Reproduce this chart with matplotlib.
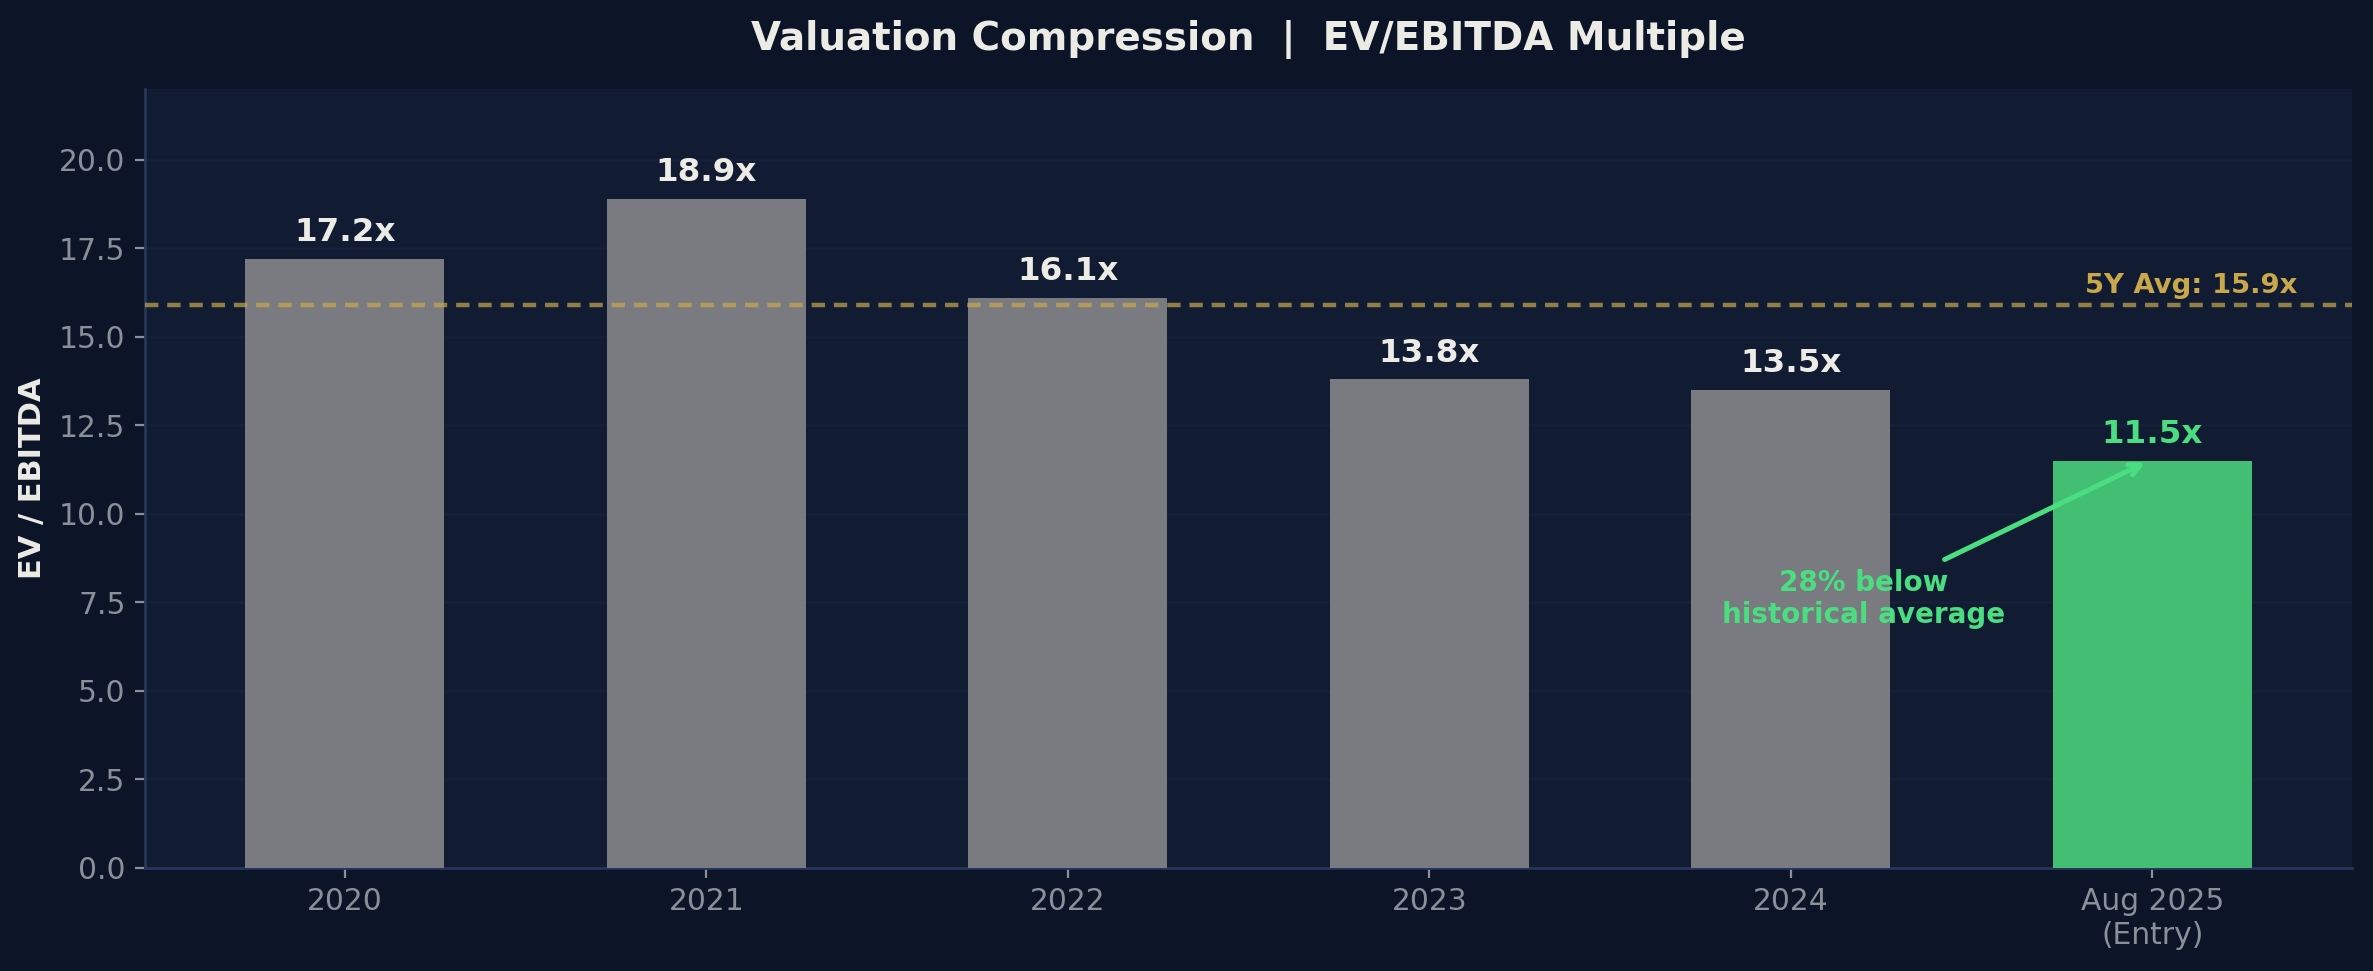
import matplotlib
matplotlib.use("Agg")
import matplotlib.pyplot as plt

categories = ["2020", "2021", "2022", "2023", "2024", "Aug 2025\n(Entry)"]
multiples = [17.2, 18.9, 16.1, 13.8, 13.5, 11.5]
avg_5y = 15.9
avg_label = "5Y Avg: 15.9x"
annot_text = "28% below\nhistorical average"
title = "Valuation Compression  |  EV/EBITDA Multiple"
ylabel = "EV / EBITDA"

FIG_BG = "#0b1527"
AX_BG = "#111c33"
GRAY = "#7a7b80"
GREEN_BAR = "#42bf72"
GREEN_TXT = "#4ade80"
GOLD = "#c9a84c"
TXT = "#ecebe6"
TICK = "#8a8f98"

plt.rcParams['font.family'] = ['DejaVu Sans']
fig = plt.figure(figsize=(2373/200, 971/200), dpi=200, facecolor=FIG_BG)
ax = fig.add_axes([0.0611, 0.1061, 0.9301, 0.8022])
ax.set_facecolor(AX_BG)

x = list(range(len(categories)))
colors = [GRAY] * (len(categories) - 1) + [GREEN_BAR]
ax.bar(x, multiples, width=0.55, color=colors, zorder=3)
ax.set_xticks(x)
ax.set_xticklabels(categories)
ax.set_ylim(0, 22)
yt = [0, 2.5, 5, 7.5, 10, 12.5, 15, 17.5, 20]
ax.set_yticks(yt)
ax.set_yticklabels([f"{v:.1f}" for v in yt])

for i, v in enumerate(multiples):
    last = i == len(multiples) - 1
    ax.text(i, v + 0.3, f"{v:.1f}x", ha="center", va="bottom", fontsize=11.7,
            fontweight="bold", color=GREEN_TXT if last else TXT, zorder=5)

ax.axhline(avg_5y, color=GOLD, alpha=0.7, linestyle=(0, (3, 2)), linewidth=1.6, zorder=4)
ax.text(5.4, avg_5y + 0.18, avg_label, ha="right", va="bottom", fontsize=9.9,
        fontweight="bold", color=GOLD, zorder=5)

ax.annotate(annot_text, xy=(4.98, 11.45), xytext=(4.2, 7.6), ha="center", va="center",
            fontsize=10, fontweight="bold", color=GREEN_TXT, zorder=6,
            arrowprops=dict(arrowstyle="->", color=GREEN_TXT, lw=1.8,
                            shrinkA=3, shrinkB=0))

ax.grid(axis="y", color="#162039", linewidth=0.9, zorder=0)
ax.set_axisbelow(True)
for s in ["top", "right"]:
    ax.spines[s].set_visible(False)
for s in ["left", "bottom"]:
    ax.spines[s].set_color("#26355a")
    ax.spines[s].set_linewidth(1.0)
ax.tick_params(colors=TICK, labelsize=10.7, length=3.5, width=0.8)
ax.set_ylabel(ylabel, color=TXT, fontsize=11, fontweight="bold", labelpad=4.5)
ax.set_title(title, color=TXT, fontsize=14, fontweight="bold", pad=14)

fig.savefig("out.png", dpi=200, facecolor=FIG_BG)
